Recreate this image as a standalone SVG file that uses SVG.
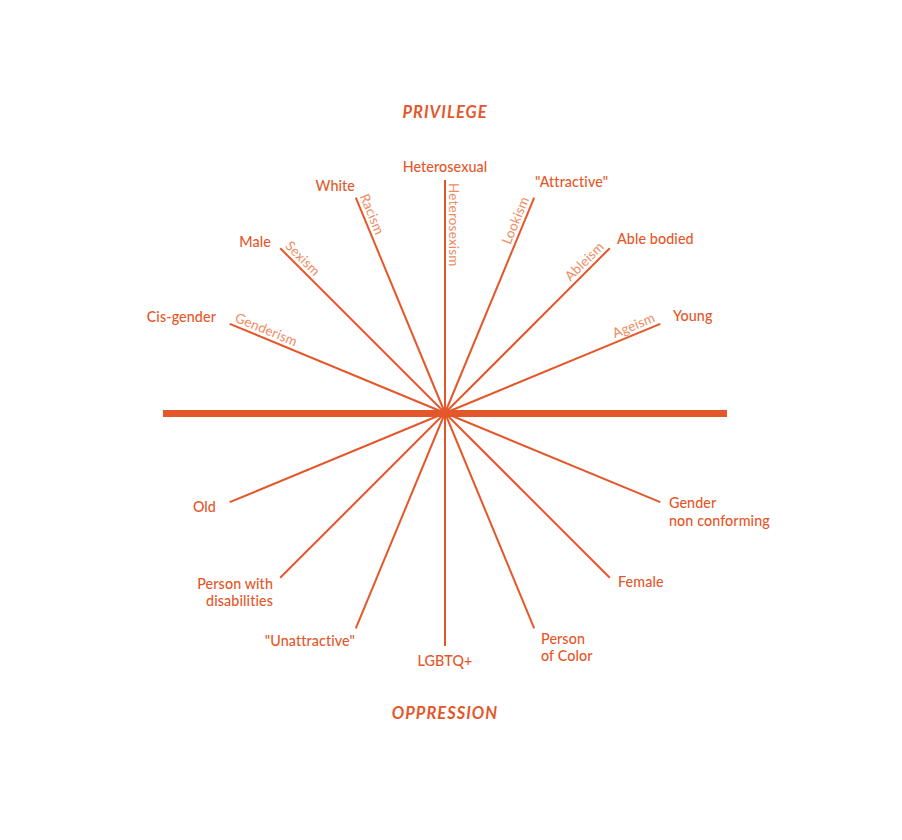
<svg xmlns="http://www.w3.org/2000/svg" width="902" height="840" viewBox="0 0 902 840">
<style>
.sp{stroke:#E4572A;stroke-width:2;fill:none}
.lb{font-family:"Lato","Liberation Sans",sans-serif;font-size:14.3px;fill:#E4572A;font-weight:500;letter-spacing:0.1px}
.ism{font-family:"Lato","Liberation Sans",sans-serif;font-size:13.5px;fill:#EE8B63;font-weight:400;letter-spacing:0.2px}
.ttl{font-family:"Lato","Liberation Sans",sans-serif;font-size:16.5px;fill:#E4572A;font-weight:700;font-style:italic;text-anchor:middle;letter-spacing:1px}
</style>
<rect width="902" height="840" fill="#fff"/>
<g id="connectors">
<line class="sp" x1="445" y1="413" x2="445" y2="180"/>
<line class="sp" x1="445" y1="413" x2="355.8" y2="197.7"/>
<line class="sp" x1="445" y1="413" x2="280.2" y2="248.2"/>
<line class="sp" x1="445" y1="413" x2="229.7" y2="323.8"/>
<line class="sp" x1="445" y1="413" x2="534.2" y2="197.7"/>
<line class="sp" x1="445" y1="413" x2="609.8" y2="248.2"/>
<line class="sp" x1="445" y1="413" x2="660.3" y2="323.8"/>
<line class="sp" x1="445" y1="413" x2="229.7" y2="502.2"/>
<line class="sp" x1="445" y1="413" x2="280.2" y2="577.8"/>
<line class="sp" x1="445" y1="413" x2="355.8" y2="628.3"/>
<line class="sp" x1="445" y1="413" x2="445" y2="646"/>
<line class="sp" x1="445" y1="413" x2="534.2" y2="628.3"/>
<line class="sp" x1="445" y1="413" x2="609.8" y2="577.8"/>
<line class="sp" x1="445" y1="413" x2="660.3" y2="502.2"/>
<line x1="163" y1="413.5" x2="727" y2="413.5" stroke="#E4572A" stroke-width="7"/>
</g>
<g id="titles">
<text class="ttl" x="445" y="118">PRIVILEGE</text>
<text class="ttl" x="445" y="719">OPPRESSION</text>
</g>
<g id="n-heterosexual"><text class="lb" x="445" y="172" text-anchor="middle">Heterosexual</text>
<text class="ism" transform="translate(445,180) rotate(90)" x="3" y="-4">Heterosexism</text></g>
<g id="n-white"><text class="lb" x="355" y="191" text-anchor="end">White</text>
<text class="ism" transform="translate(355.8,197.7) rotate(67.5)" x="0" y="-4">Racism</text></g>
<g id="n-male"><text class="lb" x="271" y="247" text-anchor="end">Male</text>
<text class="ism" transform="translate(280.2,248.2) rotate(45)" x="2" y="-4">Sexism</text></g>
<g id="n-cisgender"><text class="lb" x="216" y="322" text-anchor="end">Cis-gender</text>
<text class="ism" transform="translate(229.7,323.8) rotate(22.5)" x="3" y="-4">Genderism</text></g>
<g id="n-attractive"><text class="lb" x="535" y="187">"Attractive"</text>
<text class="ism" transform="translate(534.2,197.7) rotate(-67.5)" x="-3" y="-4" text-anchor="end">Lookism</text></g>
<g id="n-ablebodied"><text class="lb" x="617" y="244">Able bodied</text>
<text class="ism" transform="translate(609.8,248.2) rotate(-45)" x="-3" y="-4" text-anchor="end">Ableism</text></g>
<g id="n-young"><text class="lb" x="673" y="321">Young</text>
<text class="ism" transform="translate(660.3,323.8) rotate(-22.5)" x="-3" y="-4" text-anchor="end">Ageism</text></g>
<g id="n-old"><text class="lb" x="216" y="512" text-anchor="end">Old</text></g>
<g id="n-disabilities"><text class="lb" x="273" y="589" text-anchor="end">Person with</text><text class="lb" x="273" y="606" text-anchor="end">disabilities</text></g>
<g id="n-unattractive"><text class="lb" x="355" y="646" text-anchor="end">"Unattractive"</text></g>
<g id="n-lgbtq"><text class="lb" x="445" y="666" text-anchor="middle">LGBTQ+</text></g>
<g id="n-poc"><text class="lb" x="541" y="644">Person</text><text class="lb" x="541" y="661">of Color</text></g>
<g id="n-female"><text class="lb" x="618" y="587">Female</text></g>
<g id="n-gnc"><text class="lb" x="669" y="508">Gender</text><text class="lb" x="669" y="526">non conforming</text></g>
</svg>
